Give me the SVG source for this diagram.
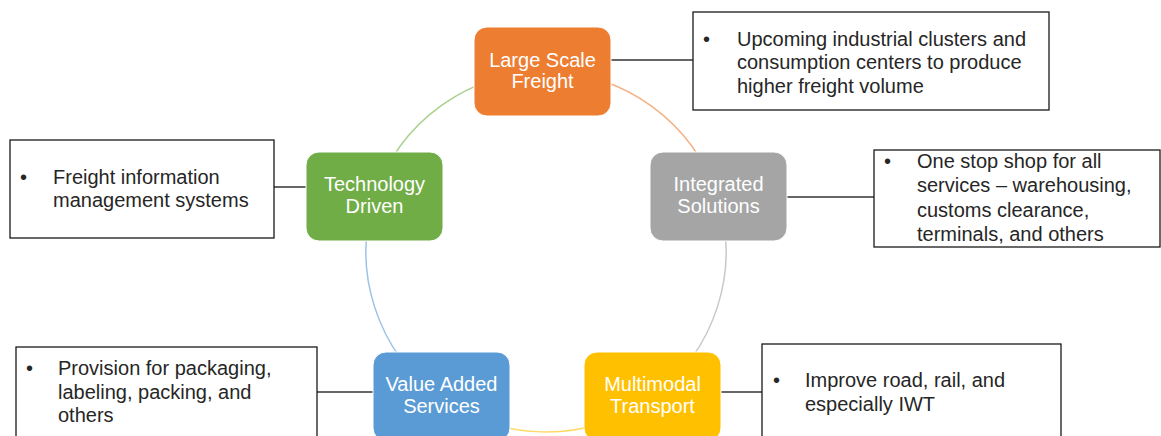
<svg xmlns="http://www.w3.org/2000/svg" width="1161" height="436" viewBox="0 0 1161 436">
  <style>
    .node-label { font-family: "Liberation Sans", Arial, sans-serif; font-size: 20px; fill: #ffffff; text-anchor: middle; }
    .note { fill: #ffffff; stroke: #1a1a1a; stroke-width: 1.3; }
    .note-text { font-family: "Liberation Sans", Arial, sans-serif; font-size: 20px; fill: #262626; }
    .link { stroke: #333333; stroke-width: 1.5; fill: none; }
    .ring { fill: none; stroke-width: 1.5; }
    .node rect { stroke: #ffffff; stroke-width: 1; }
  </style>
  <rect width="1161" height="436" fill="#ffffff"/>

  <!-- ring segments between the five stages -->
  <g id="connectors">
    <path class="ring" stroke="#F4B183" d="M 546 72 A 180 180 0 0 1 717.2 196.4"/>
    <path class="ring" stroke="#C9C9C9" d="M 717.2 196.4 A 180 180 0 0 1 651.8 397.6"/>
    <path class="ring" stroke="#FFD966" d="M 651.8 397.6 A 180 180 0 0 1 440.2 397.6"/>
    <path class="ring" stroke="#9DC3E6" d="M 440.2 397.6 A 180 180 0 0 1 374.8 196.4"/>
    <path class="ring" stroke="#A9D18E" d="M 374.8 196.4 A 180 180 0 0 1 546 72"/>

    <!-- leader lines from stages to their notes -->
    <line class="link" x1="611" y1="60" x2="693" y2="60"/>
    <line class="link" x1="787" y1="197" x2="874" y2="197"/>
    <line class="link" x1="306" y1="187" x2="274" y2="187"/>
    <line class="link" x1="373" y1="392" x2="317" y2="392"/>
    <line class="link" x1="721" y1="392" x2="762" y2="392"/>
  </g>

  <g id="node-large-scale-freight" class="node">
    <rect x="474" y="27" width="137" height="89" rx="13" fill="#ED7D31"/>
    <text class="node-label" x="542.5" y="67">Large Scale</text>
    <text class="node-label" x="542.5" y="88">Freight</text>
  </g>
  <g id="node-integrated-solutions" class="node">
    <rect x="650" y="152" width="137" height="89" rx="13" fill="#A5A5A5"/>
    <text class="node-label" x="718.5" y="191">Integrated</text>
    <text class="node-label" x="718.5" y="213">Solutions</text>
  </g>
  <g id="node-multimodal-transport" class="node">
    <rect x="584" y="352" width="137" height="89" rx="13" fill="#FFC000"/>
    <text class="node-label" x="652.5" y="391">Multimodal</text>
    <text class="node-label" x="652.5" y="413">Transport</text>
  </g>
  <g id="node-value-added-services" class="node">
    <rect x="373" y="352" width="137" height="89" rx="13" fill="#5B9BD5"/>
    <text class="node-label" x="441.5" y="391">Value Added</text>
    <text class="node-label" x="441.5" y="413">Services</text>
  </g>
  <g id="node-technology-driven" class="node">
    <rect x="306" y="152" width="137" height="89" rx="13" fill="#70AD47"/>
    <text class="node-label" x="374.5" y="191">Technology</text>
    <text class="node-label" x="374.5" y="213">Driven</text>
  </g>

  <g id="note-large-scale-freight">
    <rect class="note" x="693" y="12" width="356" height="98"/>
    <text class="note-text" x="703" y="46">•</text>
    <text class="note-text" x="737" y="46">Upcoming industrial clusters and</text>
    <text class="note-text" x="737" y="69">consumption centers to produce</text>
    <text class="note-text" x="737" y="93">higher freight volume</text>
  </g>
  <g id="note-integrated-solutions">
    <rect class="note" x="874" y="150" width="286" height="97"/>
    <text class="note-text" x="884" y="168">•</text>
    <text class="note-text" x="917" y="168">One stop shop for all</text>
    <text class="note-text" x="917" y="192">services – warehousing,</text>
    <text class="note-text" x="917" y="217">customs clearance,</text>
    <text class="note-text" x="917" y="241">terminals, and others</text>
  </g>
  <g id="note-technology-driven">
    <rect class="note" x="10" y="140" width="264" height="98"/>
    <text class="note-text" x="20" y="184">•</text>
    <text class="note-text" x="53" y="184">Freight information</text>
    <text class="note-text" x="53" y="207">management systems</text>
  </g>
  <g id="note-value-added-services">
    <rect class="note" x="16" y="347" width="301" height="100"/>
    <text class="note-text" x="26" y="375">•</text>
    <text class="note-text" x="58" y="375">Provision for packaging,</text>
    <text class="note-text" x="58" y="399">labeling, packing, and</text>
    <text class="note-text" x="58" y="422">others</text>
  </g>
  <g id="note-multimodal-transport">
    <rect class="note" x="762" y="344" width="299" height="103"/>
    <text class="note-text" x="773" y="387">•</text>
    <text class="note-text" x="805" y="387">Improve road, rail, and</text>
    <text class="note-text" x="805" y="411">especially IWT</text>
  </g>
</svg>
